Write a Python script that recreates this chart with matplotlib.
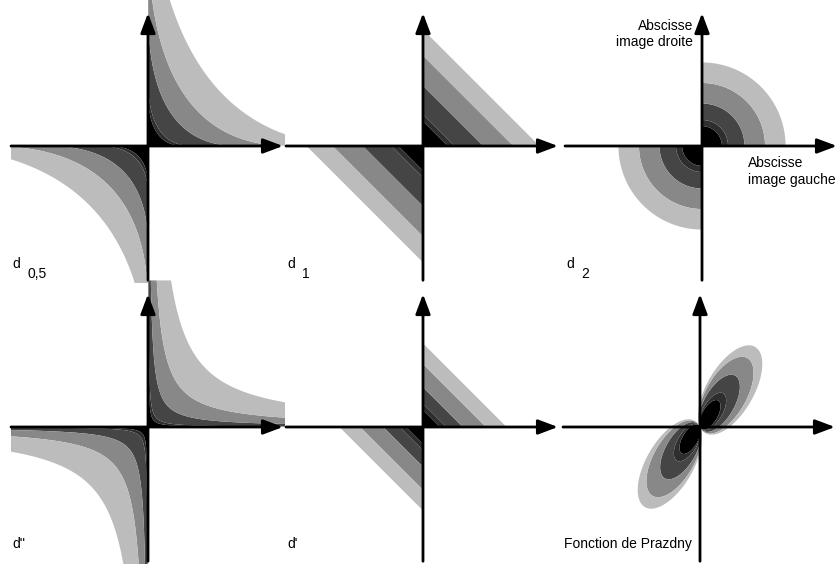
import numpy as np
import matplotlib.pyplot as plt

plt.rcParams['font.family'] = ['Liberation Sans', 'DejaVu Sans']

# grey of each band, innermost first
BAND_COLORS = ['#000000', '#2e2e2e', '#454545', '#888888', '#bcbcbc']

# band limits (1 unit = half length of an axis)
D05_LEVELS = [0.29, 0.36, 0.73, 1.15, 1.72]
D05_Q1_STRETCH = (0.89, 1.35)
D05_Q3_STRETCH = (1.0, 1.0)
D1_LEVELS = [0.18, 0.23, 0.44, 0.66, 0.85]
D2_LEVELS = [0.145, 0.19, 0.31, 0.46, 0.61]
DSEC_LEVELS = [0.002, 0.004, 0.022, 0.068, 0.18]
DPRIME_LEVELS = [0.125, 0.17, 0.29, 0.46, 0.61]
PRAZ_LEVELS = [0.33, 0.42, 0.64, 0.86, 1.0]
PRAZ_CENTER = (0.22, 0.27)
PRAZ_SEMI_AXES = (0.36, 0.17)
PRAZ_ANGLE = 60

# panel origins in pixels, and pixels per unit
ORIGINS = [(148, 146), (423, 146), (702, 146), (148, 427), (423, 427), (700, 427)]
UNIT = 137
W, H = 836, 564


def same_sign(x, y, v):
    return np.where(x * y > 0, v, np.nan)


def f_d05(x, y):
    sx = np.where(x > 0, D05_Q1_STRETCH[0], D05_Q3_STRETCH[0])
    sy = np.where(x > 0, D05_Q1_STRETCH[1], D05_Q3_STRETCH[1])
    v = (np.sqrt(np.abs(x) / sx) + np.sqrt(np.abs(y) / sy)) ** 2
    return same_sign(x, y, v)


def f_d1(x, y):
    return same_sign(x, y, np.abs(x) + np.abs(y))


def f_d2(x, y):
    return same_sign(x, y, np.hypot(x, y))


def f_dsec(x, y):
    return same_sign(x, y, np.abs(x * y))


def f_prazdny(x, y):
    th = np.radians(PRAZ_ANGLE)
    rot = np.array([[np.cos(th), -np.sin(th)], [np.sin(th), np.cos(th)]])
    a, b = PRAZ_SEMI_AXES
    m = rot @ np.diag([1 / a ** 2, 1 / b ** 2]) @ rot.T
    c = np.array(PRAZ_CENTER)
    m = m / (c @ m @ c)
    g = m @ c
    q = m[0, 0] * x ** 2 + 2 * m[0, 1] * x * y + m[1, 1] * y ** 2
    lin = np.abs(g[0] * x + g[1] * y)
    with np.errstate(divide='ignore', invalid='ignore'):
        v = q / (2 * lin)
    return v


panels = [
    (f_d05, D05_LEVELS, ('d', '0,5')),
    (f_d1, D1_LEVELS, ('d', '1')),
    (f_d2, D2_LEVELS, ('d', '2')),
    (f_dsec, DSEC_LEVELS, ("d''", None)),
    (f_d1, DPRIME_LEVELS, ("d'", None)),
    (f_prazdny, PRAZ_LEVELS, ('Fonction de Prazdny', None)),
]

fig = plt.figure(figsize=(W / 100, H / 100), dpi=100)

xs = np.linspace(-1.0, 1.0, 700)
ys = np.linspace(-1.0, 1.07, 740)
X, Y = np.meshgrid(xs, ys)

xlim = (-1.04, 1.04)
ylim = (-1.04, 1.09)

for (ox, oy), (func, levels, label) in zip(ORIGINS, panels):
    left = (ox + xlim[0] * UNIT) / W
    bottom = 1 - (oy - ylim[0] * UNIT) / H
    ax = fig.add_axes([left, bottom, (xlim[1] - xlim[0]) * UNIT / W,
                       (ylim[1] - ylim[0]) * UNIT / H])
    ax.set_xlim(xlim)
    ax.set_ylim(ylim)
    ax.set_facecolor('none')
    ax.axis('off')

    V = func(X, Y)
    ax.contourf(X, Y, V, levels=[0] + levels, colors=BAND_COLORS,
                antialiased=True)

    arrow = dict(arrowstyle='-|>,head_length=1.2,head_width=0.45', lw=2,
                 color='black', shrinkA=0, shrinkB=0, mutation_scale=10)
    ax.annotate('', xy=(0.985, 0), xytext=(-1.0, 0), arrowprops=arrow, zorder=5)
    ax.annotate('', xy=(0, 0.97), xytext=(0, -0.98), arrowprops=arrow, zorder=5)

    name, sub = label
    if sub is None:
        ax.text(-0.99, -0.88, name, fontsize=10, ha='left', va='baseline')
    else:
        ax.text(-0.99, -0.89, name, fontsize=10, ha='left', va='baseline')
        ax.text(-0.88, -0.965, sub, fontsize=10, ha='left', va='baseline')

    if func is f_d2:
        ax.text(-0.066, 0.93, 'Abscisse\nimage droite', fontsize=10,
                ha='right', va='top', multialignment='right', linespacing=1.25)
        ax.text(0.336, -0.075, 'Abscisse\nimage gauche', fontsize=10,
                ha='left', va='top', linespacing=1.25)

fig.savefig('out.png', dpi=100)
